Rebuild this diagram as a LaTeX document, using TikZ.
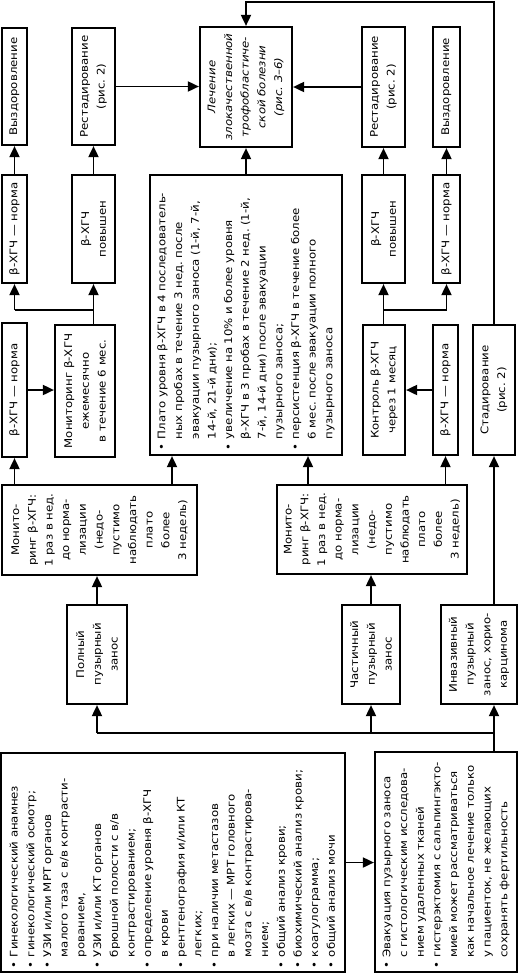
\documentclass[tikz,border=0pt]{standalone}
\usepackage{fontspec}
\setmainfont{DejaVu Sans}[FakeStretch=1.12]
\usetikzlibrary{arrows.meta, positioning, calc}
\frenchspacing

\tikzset{
  box/.style={draw, line width=2.2pt, rotate=90, align=center,
    inner sep=3pt, font=\fontsize{10.5}{16.7}\selectfont},
  listbox/.style={box, align=left},
  arr/.style={-{Triangle[length=11pt,width=10pt]}, line width=1.8pt},
  line/.style={line width=1.8pt}
}
\newcommand{\bul}{\makebox[11pt][l]{\textbullet}}
\newcommand{\ind}{\hspace*{11pt}}

\begin{document}
\begin{tikzpicture}[x=1pt, y=-1pt]
  \useasboundingbox (0,0) rectangle (520,975);

  % first row: examination and evacuation
  \node[listbox, minimum width=219pt, minimum height=344pt, text width=211pt] (exam) at (173,862.5) {%
    \bul Гинекологический анамнез\\
    \bul гинекологический осмотр;\\
    \bul УЗИ и/или МРТ органов\\
    \ind малого таза с в/в контрасти-\\
    \ind рованием,\\
    \bul УЗИ и/или КТ органов\\
    \ind брюшной полости с в/в\\
    \ind контрастированием;\\
    \bul определение уровня β-ХГЧ\\
    \ind в крови\\
    \bul рентгенография и/или КТ\\
    \ind легких;\\
    \bul при наличии метастазов\\
    \ind в легких — МРТ головного\\
    \ind мозга с в/в контрастирова-\\
    \ind нием;\\
    \bul общий анализ крови;\\
    \bul биохимический анализ крови;\\
    \bul коагулограмма;\\
    \bul общий анализ мочи};
  \node[listbox, minimum width=220pt, minimum height=142pt, text width=213pt] (evac) at (446,862) {%
    \bul Эвакуация пузырного заноса\\
    \ind с гистологическим исследова-\\
    \ind нием удаленных тканей\\
    \bul \mbox{гистерэктомия с сальпингэкто-}\\
    \ind мией может рассматриваться\\
    \ind как начальное лечение только\\
    \ind у пациенток, не желающих\\
    \ind сохранять фертильность};

  % type of mole
  \node[box, minimum width=99pt, minimum height=60pt] (full) at (97,654.5) {Полный\\пузырный\\занос};
  \node[box, minimum width=99pt, minimum height=58pt] (part) at (371,654.5) {Частичный\\пузырный\\занос};
  \node[box, minimum width=99pt, minimum height=76pt] (inv) at (479,654.5) {Инвазивный\\пузырный\\занос, хорио-\\карцинома};

  % weekly monitoring
  \node[box, minimum width=90pt, minimum height=195pt] (monL) at (99.5,530) {Монито-\\ринг β-ХГЧ:\\1 раз в нед.\\до норма-\\лизации\\(недо-\\пустимо\\наблюдать\\плато\\более\\3 недель)};
  \node[box, minimum width=89pt, minimum height=190pt] (monR) at (372,529.5) {Монито-\\ринг β-ХГЧ:\\1 раз в нед.\\до норма-\\лизации\\(недо-\\пустимо\\наблюдать\\плато\\более\\3 недель)};

  % left branch
  \node[box, minimum width=134pt, minimum height=25pt] (normL1) at (14.5,390) {β-ХГЧ — норма};
  \node[box, minimum width=132pt, minimum height=60pt] (mon6) at (85,391) {Мониторинг β-ХГЧ\\ежемесячно\\в течение 6 мес.};
  \node[box, minimum width=108pt, minimum height=25pt] (normL2) at (14.5,229) {β-ХГЧ — норма};
  \node[box, minimum width=108pt, minimum height=43pt] (highL) at (93.5,229) {β-ХГЧ\\повышен};
  \node[box, minimum width=117pt, minimum height=25pt] (recL) at (14.5,86.5) {Выздоровление};
  \node[box, minimum width=117pt, minimum height=43pt] (restL) at (93.5,86.5) {Рестадирование\\(рис. 2)};

  % middle
  \node[listbox, minimum width=280pt, minimum height=192pt, text width=270pt] (plato) at (246,315) {%
    \bul Плато уровня β-ХГЧ в 4 последователь-\\
    \ind ных пробах в течение 3 нед. после\\
    \ind эвакуации пузырного заноса (1-й, 7-й,\\
    \ind 14-й, 21-й дни);\\
    \bul увеличение на 10\% и более уровня\\
    \ind β-ХГЧ в 3 пробах в течение 2 нед. (1-й,\\
    \ind 7-й, 14-й дни) после эвакуации\\
    \ind пузырного заноса;\\
    \bul персистенция β-ХГЧ в течение более\\
    \ind 6 мес. после эвакуации полного\\
    \ind пузырного заноса};
  \node[box, font=\fontsize{10.5}{16.7}\selectfont\itshape, minimum width=120pt, minimum height=92pt] (treat) at (246,87) {Лечение\\злокачественной\\трофобластиче-\\ской болезни\\(рис. 3–6)};

  % right branch
  \node[box, minimum width=130pt, minimum height=42pt] (ctrl) at (384,390) {Контроль β-ХГЧ\\через 1 месяц};
  \node[box, minimum width=130pt, minimum height=25pt] (normR1) at (445.5,390) {β-ХГЧ — норма};
  \node[box, minimum width=130pt, minimum height=42pt] (stage) at (494,390) {Стадирование\\(рис. 2)};
  \node[box, minimum width=108pt, minimum height=43pt] (highR) at (383.5,229) {β-ХГЧ\\повышен};
  \node[box, minimum width=108pt, minimum height=27pt] (normR2) at (446.5,229) {β-ХГЧ — норма};
  \node[box, minimum width=120pt, minimum height=43pt] (restR) at (383.5,87) {Рестадирование\\(рис. 2)};
  \node[box, minimum width=120pt, minimum height=27pt] (recR) at (446.5,87) {Выздоровление};

  % helper points
  \coordinate (trunk) at (0,733);
  \coordinate (topy) at (0,2);
  \coordinate (forkL) at (0,310);
  \coordinate (pl1) at (172,0);
  \coordinate (pl2) at (308,0);

  % connectors
  \draw[arr] (exam.south) -- (exam.south -| evac.north);
  \draw[line] (evac.east -| stage.east) -- (stage.east |- trunk) -- (full.west |- trunk);
  \draw[arr] (full.west |- trunk) -- (full.west);
  \draw[arr] (part.west |- trunk) -- (part.west);
  \draw[arr] (stage.east |- trunk) -- (stage.east |- inv.west);
  \draw[arr] (full.east) -- (full.east |- monL.west);
  \draw[arr] (part.east) -- (part.east |- monR.west);
  \draw[arr] (normL1.west |- monL.east) -- (normL1.west);
  \draw[arr] (pl1 |- monL.east) -- (pl1 |- plato.west);
  \draw[arr] (pl2 |- monR.east) -- (pl2 |- plato.west);
  \draw[arr] (normR1.west |- monR.east) -- (normR1.west);
  \draw[arr] (stage.west |- inv.east) -- (stage.west);
  \draw[arr] (normL1.south) -- (normL1.south -| mon6.north);
  \draw[arr] (normR1.north) -- (normR1.north -| ctrl.south);
  \draw[line] (highL.west |- mon6.east) -- (highL.west |- forkL) -- (normL2.west |- forkL);
  \draw[arr] (highL.west |- forkL) -- (highL.west);
  \draw[arr] (normL2.west |- forkL) -- (normL2.west);
  \draw[line] (highR.west |- ctrl.east) -- (highR.west |- forkL) -- (normR2.west |- forkL);
  \draw[arr] (highR.west |- forkL) -- (highR.west);
  \draw[arr] (normR2.west |- forkL) -- (normR2.west);
  \draw[arr] (normL2.east) -- (recL.west);
  \draw[arr] (highL.east) -- (restL.west);
  \draw[arr] (normR2.east) -- (recR.west);
  \draw[arr] (highR.east) -- (restR.west);
  \draw[arr] (restL.south) -- (restL.south -| treat.north);
  \draw[arr] (restR.north) -- (restR.north -| treat.south);
  \draw[arr] (plato.east) -- (treat.west);
  \draw[arr] (stage.east) -- (stage.east |- topy) -| (treat.east);
\end{tikzpicture}
\end{document}
